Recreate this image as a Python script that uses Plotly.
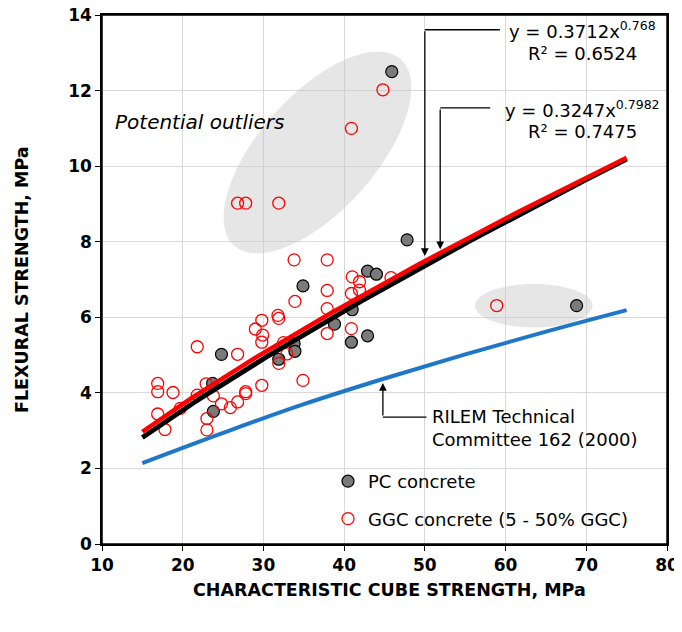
import numpy as np
import plotly.graph_objects as go

# ---------------- data ----------------
pc_x = [45.9, 47.8, 34.9, 42.9, 44.0, 41.0, 38.8, 40.9, 42.9, 33.8, 33.9, 31.9, 24.8, 23.7, 23.8, 68.8]
pc_y = [12.5, 8.05, 6.83, 7.22, 7.14, 6.20, 5.82, 5.34, 5.51, 5.30, 5.10, 4.89, 5.02, 4.25, 3.51, 6.31]

ggc_x = [26.8, 27.8, 31.9, 40.9, 44.8, 58.9,
         33.8, 37.9, 41.0, 41.9, 40.9, 41.9, 45.8, 37.9, 33.9, 37.9,
         37.9, 40.9, 31.8, 31.9, 29.8, 29.0, 29.9, 29.8, 32.9, 31.9, 32.5, 34.9,
         21.8, 26.8, 29.8, 16.9, 16.9, 18.8, 16.9, 17.8, 19.7,
         21.8, 22.9, 23.8, 24.8, 25.9, 26.8, 27.8, 27.8, 23.0, 23.0]
ggc_y = [9.02, 9.02, 9.02, 11.0, 12.02, 6.31,
         7.52, 7.52, 7.07, 6.94, 6.63, 6.72, 7.05, 6.71, 6.42, 6.23,
         5.57, 5.70, 6.05, 5.97, 5.92, 5.69, 5.53, 5.34, 5.03, 4.78, 5.33, 4.33,
         5.22, 5.02, 4.20, 4.25, 4.03, 4.01, 3.44, 3.03, 3.59,
         3.94, 4.24, 3.92, 3.71, 3.61, 3.76, 3.98, 4.03, 3.32, 3.02]

# power-law trend lines shown on the chart (y = a * x^b)
fit_red = (0.3712, 0.768)
fit_black = (0.3247, 0.7982)
fit_range = (15, 75)

# RILEM TC 162 (2000) curve, read at several points
rilem_x = [15, 25, 35, 45, 55, 65, 75]
rilem_y = [2.14, 2.94, 3.70, 4.38, 5.02, 5.62, 6.19]

x_ticks = [10, 20, 30, 40, 50, 60, 70, 80]
y_ticks = [0, 2, 4, 6, 8, 10, 12, 14]

# ---------------- layout geometry ----------------
W, H = 682, 632
OFF = 8                      # page body offset seen in the screenshot
ML, MR, MT, MB = 94, 23, 7, 96
XR = (10, 80)
YR = (0, 14)
pw, ph = W - ML - MR, H - MT - MB


def px2d(px, py):
    """screenshot pixel -> data coordinates"""
    x = XR[0] + (px - OFF - ML) / pw * (XR[1] - XR[0])
    y = YR[0] + (H - MB - (py - OFF)) / ph * (YR[1] - YR[0])
    return x, y


def px2paper(px, py):
    return (px - OFF - ML) / pw, (H - MB - (py - OFF)) / ph


def ellipse_path(cx, cy, a, b, theta_deg, n=120):
    th = np.radians(theta_deg)
    pts = []
    for t in np.linspace(0, 2 * np.pi, n, endpoint=False):
        u, v = a * np.cos(t), b * np.sin(t)
        px = cx + u * np.cos(th) - v * np.sin(th)
        py = cy - (u * np.sin(th) + v * np.cos(th))
        pts.append(px2d(px, py))
    return "M " + " L ".join(f"{x:.4f},{y:.4f}" for x, y in pts) + " Z"


FONT = "DejaVu Sans, sans-serif"

fig = go.Figure()

fig.add_trace(go.Scatter(
    x=pc_x, y=pc_y, mode="markers", name="PC concrete",
    legendgroup="pc",
    marker=dict(size=12, color="#7a7a7a", line=dict(color="black", width=1.2)),
))
fig.add_trace(go.Scatter(
    x=ggc_x, y=ggc_y, mode="markers", name="GGC concrete (5 - 50% GGC)",
    legendgroup="ggc",
    marker=dict(size=12, color="rgba(0,0,0,0)", line=dict(color="#ff0000", width=1.3)),
))

fx = np.linspace(fit_range[0], fit_range[1], 200)
fig.add_trace(go.Scatter(x=rilem_x, y=rilem_y, mode="lines", line=dict(color="#1f77c8", width=4, shape="spline"),
                         showlegend=False, hoverinfo="skip"))
fig.add_trace(go.Scatter(x=fx, y=fit_black[0] * fx ** fit_black[1], mode="lines",
                         line=dict(color="black", width=5), showlegend=False, hoverinfo="skip"))
fig.add_trace(go.Scatter(x=fx, y=fit_red[0] * fx ** fit_red[1], mode="lines",
                         line=dict(color="#ff0000", width=4.5), showlegend=False, hoverinfo="skip"))

shapes = [
    dict(type="path", path=ellipse_path(317.5, 152.5, 125, 58, 48.2), layer="between",
         fillcolor="rgba(200,200,200,0.45)", line=dict(width=0)),
    dict(type="path", path=ellipse_path(533.8, 305.7, 58.8, 21.7, 0), layer="between",
         fillcolor="rgba(200,200,200,0.45)", line=dict(width=0)),
    # leader lines
    dict(type="line", x0=50.0, y0=13.61, x1=59.3, y1=13.61, line=dict(color="black", width=1.3)),
    dict(type="line", x0=51.9, y0=11.54, x1=58.1, y1=11.54, line=dict(color="black", width=1.3)),
    dict(type="line", x0=44.8, y0=3.36, x1=50.2, y1=3.36, line=dict(color="black", width=1.3)),
    # plot frame
    dict(type="rect", xref="paper", yref="paper", x0=0, y0=0, x1=1, y1=1, layer="above",
         line=dict(color="black", width=1.5), fillcolor="rgba(0,0,0,0)"),
]

SUP = '<span style="font-size:12.5px">{}</span>'
xt, yt = px2paper(389, 590)
xy, yy = px2paper(22, 280)
annotations = [
    dict(x=50.0, y=7.62, ax=50.0, ay=13.61, xref="x", yref="y", axref="x", ayref="y", text="",
         showarrow=True, arrowhead=2, arrowsize=1.2, arrowwidth=1.3, arrowcolor="black"),
    dict(x=51.9, y=7.80, ax=51.9, ay=11.54, xref="x", yref="y", axref="x", ayref="y", text="",
         showarrow=True, arrowhead=2, arrowsize=1.2, arrowwidth=1.3, arrowcolor="black"),
    dict(x=44.8, y=4.26, ax=44.8, ay=3.36, xref="x", yref="y", axref="x", ayref="y", text="",
         showarrow=True, arrowhead=2, arrowsize=1.2, arrowwidth=1.3, arrowcolor="black"),
    dict(x=69.48, y=13.60, xref="x", yref="y", text="y = 0.3712x<sup>" + SUP.format("0.768") + "</sup>",
         showarrow=False, xanchor="center", yanchor="middle", font=dict(family=FONT, size=18, color="black")),
    dict(x=69.48, y=12.97, xref="x", yref="y", text="R² = 0.6524", showarrow=False,
         xanchor="center", yanchor="middle", font=dict(family=FONT, size=18, color="black")),
    dict(x=69.48, y=11.51, xref="x", yref="y", text="y = 0.3247x<sup>" + SUP.format("0.7982") + "</sup>",
         showarrow=False, xanchor="center", yanchor="middle", font=dict(family=FONT, size=18, color="black")),
    dict(x=69.48, y=10.93, xref="x", yref="y", text="R² = 0.7475", showarrow=False,
         xanchor="center", yanchor="middle", font=dict(family=FONT, size=18, color="black")),
    dict(x=11.36, y=11.17, xref="x", yref="y", text="<i>Potential outliers</i>", showarrow=False,
         xanchor="left", yanchor="middle", font=dict(family=FONT, size=20, color="black")),
    dict(x=50.64, y=3.08, xref="x", yref="y", text="RILEM Technical<br>Committee 162 (2000)", showarrow=False,
         xanchor="left", yanchor="middle", align="left", font=dict(family=FONT, size=18, color="black")),
    # axis titles
    dict(x=xt, y=yt, xref="paper", yref="paper",
         text="<b>CHARACTERISTIC CUBE STRENGTH, MPa</b>", showarrow=False,
         xanchor="center", yanchor="middle", font=dict(family=FONT, size=17.5, color="black")),
    dict(x=xy, y=yy, xref="paper", yref="paper", textangle=-90,
         text="<b>FLEXURAL STRENGTH, MPa</b>", showarrow=False,
         xanchor="center", yanchor="middle", font=dict(family=FONT, size=17.5, color="black")),
]

axis_common = dict(
    showline=True, linecolor="black", linewidth=1.5, mirror=True,
    showgrid=True, gridcolor="#d9d9d9", gridwidth=1,
    ticks="outside", ticklen=5, tickcolor="black", tickwidth=1.2,
    zeroline=False, automargin=False, ticklabeloverflow="allow",
    tickfont=dict(family=FONT, size=17, color="black", weight="bold"),
)

lx, ly = px2paper(328, 463)
fig.update_layout(
    width=W, height=H,
    margin=dict(l=ML, r=MR, t=MT, b=MB),
    paper_bgcolor="white", plot_bgcolor="white",
    xaxis=dict(range=list(XR), tickvals=x_ticks, **axis_common),
    yaxis=dict(range=list(YR), tickvals=y_ticks, **axis_common),
    shapes=shapes,
    annotations=annotations,
    legend=dict(x=lx, y=ly, xanchor="left", yanchor="top",
                traceorder="grouped", tracegroupgap=11, bgcolor="rgba(0,0,0,0)",
                font=dict(family=FONT, size=18, color="black")),
    showlegend=True,
)

fig.write_html("out.html")
